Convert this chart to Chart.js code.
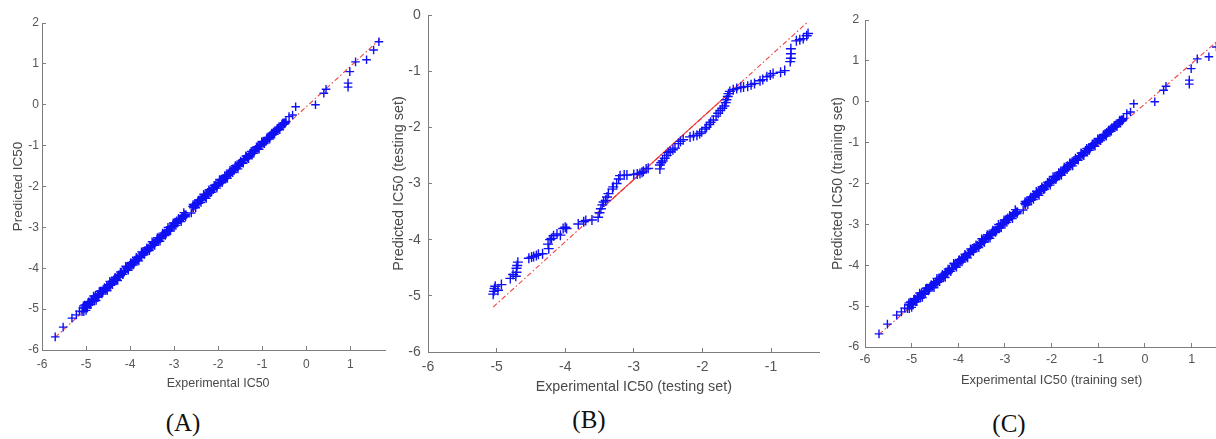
<!DOCTYPE html>
<html>
<head>
<meta charset="utf-8">
<script src="https://cdn.jsdelivr.net/npm/chart.js@4.4.1/dist/chart.umd.min.js"></script>
<style>
  html, body { margin: 0; padding: 0; background: #fff; width: 1216px; height: 439px; overflow: hidden; }
  .panel { position: absolute; top: 0; height: 400px; overflow: hidden; }
  .panel canvas { position: absolute; top: 0; left: 0; }
  .tag { position: absolute; font-family: "Liberation Serif", "Times New Roman", serif; font-size: 25px;
         line-height: 1; color: #111; transform: translate(-50%, -50%); white-space: nowrap; }
</style>
</head>
<body>
<div class="panel" style="left:0;width:386px"><canvas id="chartA" width="400" height="400"></canvas></div>
<div class="panel" style="left:386px;width:434px"><canvas id="chartB" width="460" height="400"></canvas></div>
<div class="panel" style="left:820px;width:396px"><canvas id="chartC" width="424" height="400"></canvas></div>
<div class="tag" style="left:183px;top:422px">(A)</div>
<div class="tag" style="left:589px;top:419px">(B)</div>
<div class="tag" style="left:1009px;top:423px">(C)</div>
<script>
// Experimental vs predicted IC50 (log units), training compounds
const expIC50 = [
  -5.70,-5.52,-5.32,-5.22,-5.15,
  -5.09,-5.07,-5.05,-5.03,-5.01,-4.99,-4.97,-4.95,-4.93,-4.91,
  -4.88,-4.86,-4.84,-4.81,-4.79,-4.76,-4.73,-4.71,-4.68,-4.65,
  -4.62,-4.59,-4.56,-4.53,-4.50,-4.47,-4.44,-4.41,-4.38,-4.35,
  -4.32,-4.29,-4.26,-4.23,-4.20,-4.17,-4.14,-4.11,-4.08,-4.05,
  -4.02,-3.99,-3.96,-3.93,-3.90,-3.87,-3.84,-3.81,-3.78,-3.75,
  -3.72,-3.69,-3.66,-3.63,-3.60,-3.57,-3.54,-3.51,-3.48,-3.45,
  -3.42,-3.39,-3.36,-3.33,-3.30,-3.27,-3.24,-3.21,-3.18,-3.15,
  -3.12,-3.09,-3.06,-3.03,-3.00,-2.97,-2.94,-2.91,-2.88,-2.85,
  -2.82,-2.79,-2.76,-2.73,-2.61,
  -2.58,-2.56,-2.53,-2.50,-2.47,-2.44,-2.41,-2.38,-2.35,-2.32,
  -2.29,-2.26,-2.23,-2.20,-2.17,-2.14,-2.11,-2.08,-2.05,-2.02,
  -1.99,-1.96,-1.93,-1.90,-1.87,-1.84,-1.81,-1.78,-1.75,-1.72,
  -1.69,-1.66,-1.63,-1.60,-1.57,-1.54,-1.51,-1.48,-1.45,-1.42,
  -1.39,-1.36,-1.33,-1.30,-1.27,-1.24,-1.21,-1.18,-1.15,-1.12,
  -1.09,-1.06,-1.03,-1.00,-0.97,-0.94,-0.91,-0.88,-0.85,-0.82,
  -0.80,-0.77,-0.74,-0.71,-0.68,-0.65,-0.62,-0.58,-0.55,-0.52,
  -0.50,-0.48,-0.46,
  -5.06,-5.00,-4.94,-4.89,-4.83,-4.77,-4.70,-4.64,-4.58,-4.52,
  -4.46,-4.40,-4.34,-4.28,-4.22,-4.16,-4.10,-4.04,-3.98,-3.92,
  -3.86,-3.80,-3.74,-3.68,-3.62,-3.56,-3.50,-3.44,-3.38,-3.32,
  -3.26,-3.20,-3.14,-3.08,-3.02,-2.96,-2.90,-2.84,-2.78,-2.74,
  -2.57,-2.51,-2.45,-2.39,-2.33,-2.27,-2.21,-2.15,-2.09,-2.03,
  -1.97,-1.91,-1.85,-1.79,-1.73,-1.67,-1.61,-1.55,-1.49,-1.43,
  -1.37,-1.31,-1.25,-1.19,-1.13,-1.07,-1.01,-0.95,-0.89,-0.83,
  -0.78,-0.72,-0.66,-0.60,-0.54,-0.49,
  -5.04,-4.98,-4.92,-4.86,-4.80,-4.74,-4.67,-4.61,-4.55,-4.49,
  -4.43,-4.37,-4.31,-4.25,-4.19,-4.13,-4.07,-4.01,-3.95,-3.89,
  -3.83,-3.77,-3.71,-3.65,-3.59,-3.53,-3.47,-3.41,-3.35,-3.29,
  -3.23,-3.17,-3.11,-3.05,-2.99,-2.93,-2.87,-2.81,-2.76,-2.74,
  -2.55,-2.48,-2.42,-2.36,-2.30,-2.24,-2.18,-2.12,-2.06,-2.00,
  -1.94,-1.88,-1.82,-1.76,-1.70,-1.64,-1.58,-1.52,-1.46,-1.40,
  -1.34,-1.28,-1.22,-1.16,-1.10,-1.04,-0.98,-0.92,-0.86,-0.81,
  -0.75,-0.69,-0.63,-0.57,-0.51,-0.47,
  -0.39,-0.31,-0.24,0.21,0.40,0.45,0.95,0.95,0.99,1.12,1.37,1.53,1.65
];
const predIC50 = [
  -5.68,-5.44,-5.22,-5.14,-5.05,
  -5.06,-4.97,-5.06,-4.90,-4.96,-4.90,-4.97,-4.83,-4.87,-4.89,
  -4.78,-4.82,-4.76,-4.80,-4.68,-4.71,-4.64,-4.69,-4.56,-4.59,
  -4.59,-4.50,-4.51,-4.43,-4.46,-4.40,-4.42,-4.33,-4.33,-4.26,
  -4.29,-4.23,-4.16,-4.19,-4.13,-4.15,-4.06,-4.06,-3.98,-4.02,
  -3.95,-3.88,-3.91,-3.85,-3.87,-3.81,-3.75,-3.77,-3.71,-3.73,
  -3.64,-3.64,-3.56,-3.59,-3.53,-3.54,-3.45,-3.46,-3.40,-3.43,
  -3.36,-3.29,-3.32,-3.26,-3.27,-3.18,-3.19,-3.13,-3.16,-3.08,
  -3.08,-2.99,-3.01,-2.95,-2.97,-2.90,-2.84,-2.87,-2.80,-2.80,
  -2.73,-2.76,-2.69,-2.69,-2.65,
  -2.49,-2.52,-2.43,-2.44,-2.39,-2.41,-2.34,-2.28,-2.30,-2.24,
  -2.26,-2.19,-2.19,-2.11,-2.12,-2.06,-2.08,-2.01,-1.95,-1.98,
  -1.91,-1.91,-1.84,-1.87,-1.80,-1.80,-1.72,-1.73,-1.67,-1.69,
  -1.62,-1.56,-1.59,-1.52,-1.52,-1.45,-1.48,-1.41,-1.41,-1.34,
  -1.34,-1.27,-1.30,-1.24,-1.19,-1.20,-1.14,-1.15,-1.09,-1.04,
  -1.06,-1.00,-0.99,-0.93,-0.94,-0.89,-0.89,-0.82,-0.82,-0.75,
  -0.76,-0.71,-0.72,-0.63,-0.63,-0.58,-0.59,-0.53,-0.48,-0.48,
  -0.44,-0.45,-0.41,
  -4.92,-5.03,-4.82,-4.89,-4.68,-4.79,-4.57,-4.63,-4.47,-4.55,
  -4.32,-4.40,-4.22,-4.30,-4.09,-4.15,-3.95,-4.05,-3.86,-3.92,
  -3.73,-3.82,-3.60,-3.67,-3.50,-3.57,-3.35,-3.44,-3.25,-3.34,
  -3.14,-3.20,-3.00,-3.09,-2.89,-2.95,-2.78,-2.86,-2.64,-2.74,
  -2.44,-2.52,-2.33,-2.39,-2.19,-2.29,-2.08,-2.14,-1.97,-2.04,
  -1.83,-1.91,-1.73,-1.80,-1.60,-1.66,-1.49,-1.57,-1.38,-1.43,
  -1.25,-1.32,-1.14,-1.19,-1.03,-1.09,-0.90,-0.95,-0.80,-0.84,
  -0.69,-0.72,-0.58,-0.61,-0.45,-0.47,
  -4.97,-4.94,-4.83,-4.81,-4.72,-4.71,-4.57,-4.55,-4.51,-4.41,
  -4.38,-4.28,-4.28,-4.18,-4.09,-4.09,-4.01,-3.93,-3.90,-3.80,
  -3.79,-3.70,-3.61,-3.60,-3.51,-3.50,-3.38,-3.35,-3.31,-3.21,
  -3.18,-3.07,-3.07,-2.98,-2.90,-2.90,-2.81,-2.73,-2.71,-2.70,
  -2.47,-2.43,-2.33,-2.32,-2.23,-2.14,-2.15,-2.06,-1.98,-1.95,
  -1.85,-1.84,-1.75,-1.71,-1.62,-1.61,-1.52,-1.43,-1.42,-1.33,
  -1.29,-1.20,-1.19,-1.10,-1.03,-1.00,-0.92,-0.89,-0.81,-0.77,
  -0.69,-0.66,-0.58,-0.53,-0.45,-0.44,
  -0.29,-0.25,-0.05,0.00,0.28,0.38,0.53,0.43,0.81,1.05,1.10,1.34,1.54
];
// Regression line for the training compounds
const fitX = [-5.70, 1.68];
const fitY = [-5.69, 1.61];

// Testing set
const testExpIC50 = [
  -5.05,-5.04,-5.03,-5.02,-4.98,-4.93,
  -4.80,-4.76,
  -4.72,-4.71,-4.71,-4.70,-4.69,
  -4.53,-4.49,-4.46,-4.42,-4.39,-4.33,
  -4.24,-4.25,-4.22,-4.20,-4.17,-4.12,-4.07,
  -4.03,-4.00,-3.98,
  -3.81,-3.73,-3.70,-3.61,
  -3.52,-3.50,-3.48,-3.46,-3.44,-3.41,-3.39,-3.37,
  -3.31,-3.30,-3.25,-3.22,-3.20,-3.14,-3.10,
  -3.00,-2.95,-2.91,-2.88,-2.86,-2.82,-2.79,
  -2.62,-2.62,-2.60,-2.58,-2.55,-2.52,-2.50,
  -2.47,-2.43,-2.40,-2.35,-2.32,-2.28,
  -2.18,-2.13,-2.08,-2.04,-2.01,-1.96,-1.94,-1.90,-1.88,-1.84,
  -1.80,-1.77,-1.74,-1.71,-1.68,-1.66,-1.65,-1.63,-1.62,-1.60,
  -1.55,-1.50,-1.44,-1.40,-1.34,-1.29,-1.24,-1.16,-1.12,-1.06,-1.01,-0.97,-0.86,-0.80,
  -0.72,-0.71,-0.71,-0.71,-0.63,-0.58,-0.53,-0.48,-0.46
];
const testPredIC50 = [
  -4.97,-4.92,-4.87,-4.83,-4.90,-4.80,
  -4.69,-4.62,
  -4.65,-4.58,-4.51,-4.46,-4.40,
  -4.33,-4.31,-4.30,-4.28,-4.26,-4.25,
  -4.16,-4.08,-4.00,-3.98,-3.93,-3.90,-3.92,
  -3.80,-3.78,-3.80,
  -3.72,-3.68,-3.66,-3.65,
  -3.60,-3.52,-3.45,-3.38,-3.33,-3.30,-3.24,-3.18,
  -3.10,-3.06,-3.00,-2.92,-2.86,-2.85,-2.85,
  -2.84,-2.83,-2.82,-2.80,-2.78,-2.74,-2.73,
  -2.74,-2.67,-2.63,-2.60,-2.55,-2.50,-2.45,
  -2.43,-2.40,-2.37,-2.29,-2.25,-2.22,
  -2.17,-2.15,-2.14,-2.11,-2.08,-2.03,-2.00,-1.95,-1.91,-1.87,
  -1.80,-1.75,-1.70,-1.66,-1.62,-1.56,-1.51,-1.45,-1.40,-1.36,
  -1.33,-1.31,-1.29,-1.28,-1.27,-1.24,-1.22,-1.17,-1.15,-1.10,-1.07,-1.04,-1.02,-0.99,
  -0.83,-0.77,-0.69,-0.60,-0.46,-0.44,-0.42,-0.37,-0.33
];
// Regression line for the testing set (full extent, and the solid central part)
const testFitX = [-5.05, -0.46];
const testFitY = [-5.20, -0.12];
const testFitCoreX = [-3.39, -1.43];
const testFitCoreY = [-3.36, -1.19];

const FONT = '"Liberation Sans", Arial, Helvetica, sans-serif';
const AXIS = '#7d7d7d';
const TICK = '#555555';
const TITLE = '#4a4a4a';
const BLUE = '#1010f5';
const RED = 'rgba(238,45,45,0.9)';

function points(xs, ys) { return xs.map((x, i) => ({ x: x, y: ys[i] })); }

function markers(xs, ys, r) {
  return { data: points(xs, ys), pointStyle: 'cross', pointRadius: r, pointHoverRadius: r,
           borderColor: BLUE, backgroundColor: BLUE, borderWidth: 1.4, showLine: false, order: 1 };
}
function fitLine(xs, ys, dash) {
  return { data: points(xs, ys), showLine: true, pointRadius: 0, borderColor: RED,
           borderWidth: 1.1, borderDash: dash, fill: false, order: 2 };
}

// Axis boxes keep exactly the sizes given; no extra room for edge labels
function fixScale(size, key) {
  return s => {
    s[key] = size;
    s.paddingLeft = 0; s.paddingRight = 0; s.paddingTop = 0; s.paddingBottom = 0;
  };
}

function panel(id, c) {
  return new Chart(document.getElementById(id), {
    type: 'scatter',
    data: { datasets: c.datasets },
    options: {
      responsive: false, animation: false, devicePixelRatio: 1,
      layout: { padding: { left: 0, top: c.padTop, right: c.padRight, bottom: 0 } },
      plugins: { legend: { display: false }, tooltip: { enabled: false } },
      scales: {
        x: {
          type: 'linear', position: 'bottom', min: c.xMin, max: c.xMax,
          ticks: { stepSize: 1, autoSkip: false, maxRotation: 0, color: TICK, padding: c.xTickPad,
                   font: { family: FONT, size: c.xTickSize }, callback: v => String(v) },
          grid: { drawOnChartArea: false, drawTicks: true, tickLength: -4, color: AXIS },
          border: { display: true, color: AXIS, width: 1 },
          title: { display: true, text: c.xTitle, color: TITLE,
                   font: { family: FONT, size: c.xTitleSize }, padding: { top: 0, bottom: c.xTitlePad } },
          afterFit: fixScale(c.xHeight, 'height')
        },
        y: {
          type: 'linear', position: 'left', min: c.yMin, max: c.yMax,
          ticks: { stepSize: 1, autoSkip: false, color: TICK, padding: c.yTickPad,
                   font: { family: FONT, size: c.yTickSize }, callback: v => String(v) },
          grid: { drawOnChartArea: false, drawTicks: true, tickLength: -4, color: AXIS },
          border: { display: true, color: AXIS, width: 1 },
          title: { display: true, text: c.yTitle, color: TITLE,
                   font: { family: FONT, size: c.yTitleSize }, padding: { top: c.yTitlePad, bottom: 0 } },
          afterFit: fixScale(c.yWidth, 'width')
        }
      }
    }
  });
}

const dashDot = [5, 2.5, 1.5, 2.5];

panel('chartA', {
  datasets: [markers(expIC50, predIC50, 4.3), fitLine(fitX, fitY, dashDot)],
  xMin: -6, xMax: 2, yMin: -6, yMax: 2,
  padTop: 23, padRight: 4.4, yWidth: 42, xHeight: 50,
  xTitle: 'Experimental IC50', yTitle: 'Predicted IC50',
  xTickSize: 12, yTickSize: 12, xTitleSize: 12.5, yTitleSize: 13.5,
  xTickPad: 11, yTickPad: 7, xTitlePad: 8.5, yTitlePad: 10
});

panel('chartB', {
  datasets: [markers(testExpIC50, testPredIC50, 5), fitLine(testFitX, testFitY, dashDot),
             fitLine(testFitCoreX, testFitCoreY, [])],
  xMin: -6, xMax: 0, yMin: -6, yMax: 0,
  padTop: 15, padRight: 6, yWidth: 42, xHeight: 48,
  xTitle: 'Experimental IC50 (testing set)', yTitle: 'Predicted IC50 (testing set)',
  xTickSize: 14, yTickSize: 14, xTitleSize: 14.3, yTitleSize: 14.4,
  xTickPad: 10.3, yTickPad: 11.3, xTitlePad: 4.7, yTitlePad: 4.4
});

panel('chartC', {
  datasets: [markers(expIC50, predIC50, 4.3), fitLine(fitX, fitY, dashDot)],
  xMin: -6, xMax: 2, yMin: -6, yMax: 2,
  padTop: 20, padRight: 5.4, yWidth: 45, xHeight: 53,
  xTitle: 'Experimental IC50 (training set)', yTitle: 'Predicted IC50 (training set)',
  xTickSize: 12.5, yTickSize: 12.5, xTitleSize: 12.9, yTitleSize: 13.9,
  xTickPad: 9.5, yTickPad: 9.7, xTitlePad: 12.3, yTitlePad: 9.7
});
</script>
</body>
</html>
